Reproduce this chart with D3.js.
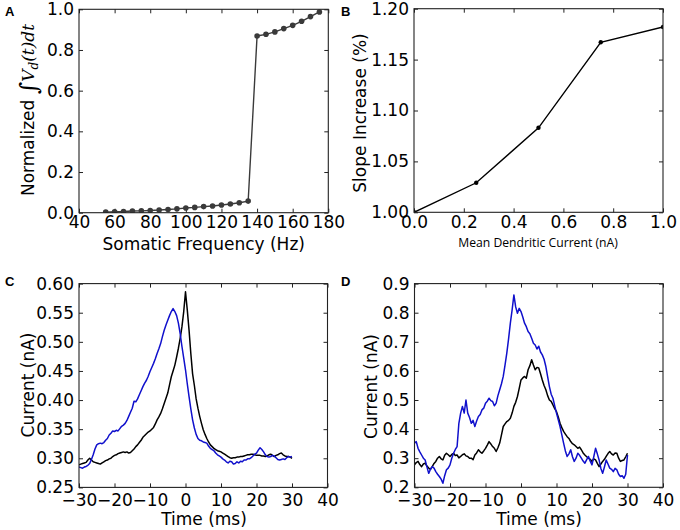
<!DOCTYPE html>
<html>
<head>
<meta charset="utf-8">
<script src="https://cdn.jsdelivr.net/npm/d3@7"></script>
<style>
  body { margin: 0; background: #fff; }
  svg { display: block; }
  .tick text { font-family: "DejaVu Sans", sans-serif; font-size: 17px; fill: #000; }
  .domain { display: none; }
  .tick line { stroke: #222; stroke-width: 1; }
</style>
</head>
<body>
<script>
"use strict";

let width = 680;
let height = 530;

// panel A
let somaticFreq = [55, 60, 65, 70, 75, 80, 85, 90, 95, 100, 105, 110, 115, 120, 125, 130, 135,
  140, 145, 150, 155, 160, 165, 170, 175];
let normIntegral = [0.003, 0.005, 0.006, 0.008, 0.009, 0.011, 0.013, 0.016, 0.019, 0.023, 0.026, 0.030,
  0.033, 0.038, 0.043, 0.049, 0.057, 0.869, 0.877, 0.889, 0.905, 0.921, 0.941, 0.964, 0.987];

// panel B
let dendCurrent = [0, 0.25, 0.5, 0.75, 1.0];
let slopeIncrease = [1.000, 1.029, 1.083, 1.167, 1.182];

// panels C and D: samples every 0.5 ms from -30 to 30 ms
let sampleStart = -30;
let sampleStep = 0.5;

let cBlack = [
  0.289, 0.290, 0.291, 0.292, 0.293, 0.297, 0.300, 0.297, 0.294, 0.293, 0.292, 0.291, 0.290, 0.292, 0.294, 0.296,
  0.297, 0.299, 0.300, 0.303, 0.305, 0.306, 0.308, 0.309, 0.310, 0.311, 0.310, 0.311, 0.309, 0.310, 0.313, 0.316,
  0.320, 0.323, 0.327, 0.331, 0.336, 0.339, 0.342, 0.345, 0.347, 0.350, 0.353, 0.359, 0.366, 0.371, 0.377, 0.385,
  0.394, 0.403, 0.412, 0.426, 0.440, 0.450, 0.460, 0.474, 0.489, 0.506, 0.526, 0.552, 0.586, 0.555, 0.520, 0.480,
  0.445, 0.425, 0.402, 0.386, 0.372, 0.360, 0.349, 0.341, 0.334, 0.328, 0.323, 0.320, 0.317, 0.315, 0.313, 0.312,
  0.311, 0.309, 0.307, 0.305, 0.303, 0.301, 0.300, 0.301, 0.301, 0.302, 0.302, 0.303, 0.303, 0.304, 0.305, 0.306,
  0.306, 0.307, 0.307, 0.306, 0.305, 0.305, 0.305, 0.304, 0.304, 0.303, 0.304, 0.306, 0.307, 0.305, 0.303, 0.305,
  0.306, 0.308, 0.309, 0.306, 0.304, 0.303, 0.303, 0.302, 0.300
];
let cBlue = [
  0.285, 0.284, 0.283, 0.285, 0.286, 0.288, 0.291, 0.298, 0.306, 0.316, 0.323, 0.325, 0.326, 0.325, 0.327, 0.331,
  0.334, 0.340, 0.343, 0.347, 0.346, 0.348, 0.347, 0.351, 0.355, 0.357, 0.360, 0.365, 0.372, 0.379, 0.386, 0.398,
  0.397, 0.402, 0.409, 0.416, 0.423, 0.429, 0.434, 0.441, 0.449, 0.456, 0.463, 0.471, 0.480, 0.488, 0.497, 0.509,
  0.520, 0.529, 0.537, 0.545, 0.552, 0.557, 0.552, 0.545, 0.532, 0.514, 0.492, 0.472, 0.452, 0.428, 0.406, 0.385,
  0.366, 0.352, 0.341, 0.334, 0.331, 0.330, 0.328, 0.327, 0.326, 0.321, 0.317, 0.315, 0.313, 0.309, 0.306, 0.304,
  0.302, 0.299, 0.297, 0.294, 0.292, 0.295, 0.294, 0.290, 0.291, 0.294, 0.292, 0.295, 0.294, 0.297, 0.297, 0.299,
  0.299, 0.301, 0.304, 0.307, 0.309, 0.314, 0.318, 0.315, 0.311, 0.306, 0.303, 0.302, 0.303, 0.305, 0.304, 0.301,
  0.298, 0.297, 0.298, 0.299, 0.298, 0.301, 0.303, 0.302, 0.303
];
let dBlack = [
  0.277, 0.285, 0.289, 0.278, 0.271, 0.280, 0.283, 0.273, 0.266, 0.262, 0.271, 0.282, 0.289, 0.300, 0.306, 0.298,
  0.294, 0.310, 0.317, 0.312, 0.306, 0.313, 0.317, 0.309, 0.311, 0.301, 0.306, 0.312, 0.315, 0.308, 0.306, 0.300,
  0.300, 0.295, 0.311, 0.318, 0.329, 0.322, 0.317, 0.325, 0.334, 0.345, 0.357, 0.349, 0.340, 0.334, 0.323, 0.336,
  0.352, 0.380, 0.409, 0.418, 0.426, 0.430, 0.437, 0.455, 0.478, 0.492, 0.512, 0.540, 0.569, 0.576, 0.581, 0.575,
  0.604, 0.618, 0.638, 0.620, 0.604, 0.612, 0.610, 0.590, 0.569, 0.550, 0.535, 0.515, 0.500, 0.495, 0.483, 0.470,
  0.460, 0.442, 0.420, 0.405, 0.392, 0.383, 0.374, 0.368, 0.357, 0.350, 0.346, 0.340, 0.334, 0.338, 0.329, 0.318,
  0.311, 0.305, 0.300, 0.296, 0.289, 0.298, 0.294, 0.282, 0.271, 0.280, 0.289, 0.296, 0.306, 0.316, 0.323, 0.315,
  0.311, 0.318, 0.317, 0.300, 0.289, 0.292, 0.294, 0.305, 0.317
];
let dBlue = [
  0.352, 0.357, 0.334, 0.322, 0.311, 0.300, 0.294, 0.270, 0.248, 0.262, 0.271, 0.266, 0.254, 0.245, 0.237, 0.228,
  0.214, 0.240, 0.260, 0.266, 0.277, 0.300, 0.317, 0.330, 0.340, 0.420, 0.455, 0.478, 0.455, 0.500, 0.455, 0.440,
  0.420, 0.430, 0.409, 0.428, 0.443, 0.450, 0.466, 0.472, 0.489, 0.496, 0.506, 0.498, 0.495, 0.480, 0.489, 0.515,
  0.535, 0.556, 0.581, 0.620, 0.661, 0.710, 0.764, 0.810, 0.861, 0.820, 0.798, 0.815, 0.804, 0.785, 0.764, 0.752,
  0.735, 0.728, 0.712, 0.695, 0.689, 0.675, 0.685, 0.665, 0.655, 0.640, 0.615, 0.580, 0.546, 0.520, 0.506, 0.480,
  0.455, 0.432, 0.409, 0.380, 0.352, 0.325, 0.306, 0.315, 0.329, 0.305, 0.289, 0.300, 0.317, 0.310, 0.300, 0.290,
  0.283, 0.295, 0.306, 0.290, 0.277, 0.305, 0.334, 0.315, 0.294, 0.265, 0.248, 0.270, 0.294, 0.280, 0.266, 0.262,
  0.254, 0.265, 0.260, 0.245, 0.237, 0.240, 0.231, 0.245, 0.311
];

let aXTicks = [40, 60, 80, 100, 120, 140, 160, 180];
let aYTicks = [0, 0.2, 0.4, 0.6, 0.8, 1.0];
let bXTicks = [0, 0.2, 0.4, 0.6, 0.8, 1.0];
let bYTicks = [1.00, 1.05, 1.10, 1.15, 1.20];
let timeTicks = [-30, -20, -10, 0, 10, 20, 30, 40];
let cYTicks = [0.25, 0.30, 0.35, 0.40, 0.45, 0.50, 0.55, 0.60];
let dYTicks = [0.2, 0.3, 0.4, 0.5, 0.6, 0.7, 0.8, 0.9];

let svg = d3.select("body").append("svg").attr("width", width).attr("height", height);

function makePanel(box, xDomain, yDomain, xTicks, yTicks, xFmt, yFmt, xPad) {
  let x = d3.scaleLinear().domain(xDomain).range([box.left, box.right]);
  let y = d3.scaleLinear().domain(yDomain).range([box.bottom, box.top]);
  let g = svg.append("g");

  g.append("g").attr("transform", "translate(0," + box.bottom + ")")
    .call(d3.axisBottom(x).tickValues(xTicks).tickFormat(d3.format(xFmt)).tickSizeInner(-4).tickSizeOuter(0).tickPadding(xPad));
  g.append("g").attr("transform", "translate(0," + box.top + ")")
    .call(d3.axisTop(x).tickValues(xTicks).tickFormat("").tickSizeInner(-4).tickSizeOuter(0));
  g.append("g").attr("transform", "translate(" + box.left + ",0)")
    .call(d3.axisLeft(y).tickValues(yTicks).tickFormat(d3.format(yFmt)).tickSizeInner(-4).tickSizeOuter(0).tickPadding(5));
  g.append("g").attr("transform", "translate(" + box.right + ",0)")
    .call(d3.axisRight(y).tickValues(yTicks).tickFormat("").tickSizeInner(-4).tickSizeOuter(0));

  let clipId = "clip" + Math.round(box.left) + "_" + Math.round(box.top);
  svg.append("clipPath").attr("id", clipId).append("rect")
    .attr("x", box.left).attr("y", box.top - 4)
    .attr("width", box.right - box.left).attr("height", box.bottom - box.top + 4);

  let plot = g.append("g").attr("clip-path", "url(#" + clipId + ")");

  g.append("rect")
    .attr("x", box.left).attr("y", box.top)
    .attr("width", box.right - box.left).attr("height", box.bottom - box.top)
    .attr("fill", "none").attr("stroke", "#222").attr("stroke-width", 1.1);

  return { x: x, y: y, plot: g, inner: plot };
}

function drawTrace(p, values, color) {
  let line = d3.line()
    .x((d, i) => p.x(sampleStart + i * sampleStep))
    .y(d => p.y(d));
  p.inner.append("path")
    .datum(values)
    .attr("fill", "none")
    .attr("stroke", color)
    .attr("stroke-width", 1.5)
    .attr("stroke-linejoin", "round")
    .attr("d", line);
}

function panelLetter(txt, x, y) {
  svg.append("text").attr("x", x).attr("y", y).text(txt)
    .style("font-family", "Liberation Sans, Arial, sans-serif")
    .style("font-weight", "bold").style("font-size", "13px");
}

function axisLabel(txt, x, y, rotate, size, family) {
  let t = svg.append("text")
    .attr("text-anchor", "middle")
    .attr("transform", "translate(" + x + "," + y + ")" + (rotate ? " rotate(-90)" : ""))
    .style("font-family", family || "DejaVu Sans, sans-serif")
    .style("font-size", (size || 17) + "px")
    .text(txt);
  return t;
}

// ---- A ----
let pa = makePanel({ left: 79, top: 9.3, right: 328.3, bottom: 212.7 }, [40, 180], [0, 1], aXTicks, aYTicks, "d", ".1f", 3.5);
let aLine = d3.line().x((d, i) => pa.x(somaticFreq[i])).y(d => pa.y(d));
pa.inner.append("path").datum(normIntegral)
  .attr("fill", "none").attr("stroke", "#3a3a3a").attr("stroke-width", 1.4).attr("d", aLine);
pa.inner.selectAll("circle").data(normIntegral).enter().append("circle")
  .attr("cx", (d, i) => pa.x(somaticFreq[i]))
  .attr("cy", d => pa.y(d))
  .attr("r", 2.8)
  .attr("fill", "#3a3a3a");

axisLabel("Somatic Frequency (Hz)", 203.7, 249.5, false);
let ya = svg.append("text")
  .attr("text-anchor", "middle")
  .attr("transform", "translate(34,110) rotate(-90)")
  .style("font-family", "DejaVu Sans, sans-serif")
  .style("font-size", "17px");
ya.append("tspan").text("Normalized ");
ya.append("tspan").text("\u222B").style("font-family", "DejaVu Serif, serif").style("font-size", "24px").attr("dy", 3);
ya.append("tspan").text("V").style("font-family", "DejaVu Serif, serif").style("font-style", "italic").attr("dy", -3);
ya.append("tspan").text("d").style("font-family", "DejaVu Serif, serif").style("font-style", "italic").style("font-size", "12px").attr("dy", 4);
ya.append("tspan").text("(t)dt").style("font-family", "DejaVu Serif, serif").style("font-style", "italic").attr("dy", -4);
panelLetter("A", 5, 16);

// ---- B ----
let pb = makePanel({ left: 414, top: 8.7, right: 663, bottom: 212.3 }, [0, 1], [1.0, 1.2], bXTicks, bYTicks, ".1f", ".2f", 3.5);
let bLine = d3.line().x((d, i) => pb.x(dendCurrent[i])).y(d => pb.y(d));
pb.inner.append("path").datum(slopeIncrease)
  .attr("fill", "none").attr("stroke", "#000").attr("stroke-width", 1.4).attr("d", bLine);
pb.inner.selectAll("circle").data(slopeIncrease).enter().append("circle")
  .attr("cx", (d, i) => pb.x(dendCurrent[i]))
  .attr("cy", d => pb.y(d))
  .attr("r", 2.2)
  .attr("fill", "#000");
axisLabel("Mean Dendritic Current (nA)", 538, 247, false, 12.2, "Open Sans, sans-serif");
axisLabel("Slope Increase (%)", 366, 113, true);
panelLetter("B", 341, 16);

// ---- C ----
let pc = makePanel({ left: 79, top: 283.6, right: 327.5, bottom: 487.4 }, [-30, 40], [0.25, 0.60], timeTicks, cYTicks, "d", ".2f", 7);
drawTrace(pc, cBlack, "#000");
drawTrace(pc, cBlue, "#1010cc");
axisLabel("Time (ms)", 204, 524.5, false);
axisLabel("Current (nA)", 33.5, 385, true);
panelLetter("C", 5, 286);

// ---- D ----
let pd = makePanel({ left: 414.5, top: 283.6, right: 663, bottom: 487.3 }, [-30, 40], [0.2, 0.9], timeTicks, dYTicks, "d", ".1f", 7);
drawTrace(pd, dBlack, "#000");
drawTrace(pd, dBlue, "#1010cc");
axisLabel("Time (ms)", 539, 524.5, false);
axisLabel("Current (nA)", 376.5, 386.5, true);
panelLetter("D", 341, 286);
</script>
</body>
</html>
